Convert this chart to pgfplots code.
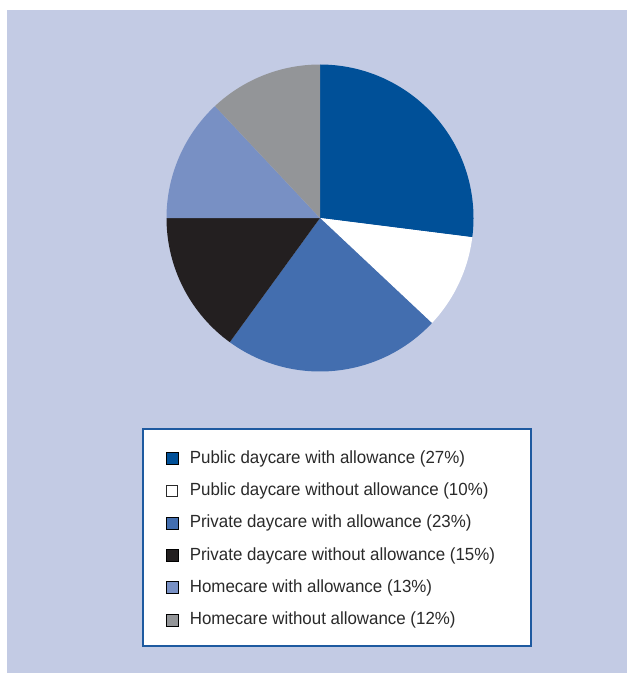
\documentclass[border=0pt]{standalone}
\usepackage{pgfplots}
\usepackage{pgfplotstable}
\pgfplotsset{compat=1.18}
\usepackage{fontspec}
\setmainfont{Liberation Sans}[FakeStretch=0.96]
\definecolor{bgblue}{HTML}{C3CBE4}
\definecolor{border}{HTML}{1E5AA0}
\definecolor{pie0}{HTML}{005098}
\definecolor{pie1}{HTML}{FFFFFF}
\definecolor{pie2}{HTML}{436EAF}
\definecolor{pie3}{HTML}{231F20}
\definecolor{pie4}{HTML}{7890C4}
\definecolor{pie5}{HTML}{939598}
\definecolor{txt}{HTML}{2A2A2A}

\pgfplotstableread{
value
27
10
23
15
13
12
}\piedata

\begin{document}
\gdef\cum{0}%
\pgfplotsforeachungrouped \i in {0,...,5}{%
  \pgfplotstablegetelem{\i}{value}\of\piedata
  \pgfmathsetmacro\s{90-3.6*\cum}%
  \pgfmathsetmacro\newcum{\cum+\pgfplotsretval}%
  \pgfmathsetmacro\e{90-3.6*\newcum}%
  \expandafter\xdef\csname pieS\i\endcsname{\s}%
  \expandafter\xdef\csname pieE\i\endcsname{\e}%
  \xdef\cum{\newcum}%
}%
\begin{tikzpicture}
\fill[white] (0pt,0pt) rectangle (470.25pt,-504.75pt);
\fill[bgblue] (5.25pt,-7.5pt) rectangle (470.25pt,-504.75pt);
\fill[white] (107.6pt,-322pt) rectangle (398.25pt,-484.65pt);
\draw[border, line width=1.5pt] (107.6pt,-322pt) rectangle (398.25pt,-484.65pt);
\begin{axis}[
  at={(240pt,-163.5pt)}, anchor=origin,
  scale only axis, width=230.25pt, height=230.25pt,
  xmin=-1, xmax=1, ymin=-1, ymax=1,
  hide axis, clip=false,
  legend style={at={(-0.0026,-0.2555)}, anchor=north west, draw=none, fill=none,
    inner sep=0pt, outer sep=0pt,
    nodes={inner sep=0pt, outer sep=0pt, text height=10pt, text depth=3pt, text=txt,
      font=\fontsize{13.2}{15}\selectfont},
    row sep=11.2pt, column sep=8.7pt},
  legend cell align=left,
  legend image code/.code={\fill[#1] (0pt,-4.5pt) rectangle (9pt,4.5pt);},
]
\pgfplotsinvokeforeach{0,...,5}{%
  \fill[pie#1] (axis cs:0,0) -- ++(\csname pieS#1\endcsname:115.125pt)
    arc[start angle=\csname pieS#1\endcsname, end angle=\csname pieE#1\endcsname, radius=115.125pt] -- cycle;
}
\addlegendimage{fill=pie0}
\addlegendentry{Public daycare with allowance (27\%)}
\addlegendimage{fill=white, legend image code/.code={\filldraw[fill=white, draw=txt, line width=0.6pt] (0.3pt,-4.2pt) rectangle (8.7pt,4.2pt);}}
\addlegendentry{Public daycare without allowance (10\%)}
\addlegendimage{fill=pie2}
\addlegendentry{Private daycare with allowance (23\%)}
\addlegendimage{fill=pie3}
\addlegendentry{Private daycare without allowance (15\%)}
\addlegendimage{fill=pie4}
\addlegendentry{Homecare with allowance (13\%)}
\addlegendimage{fill=pie5}
\addlegendentry{Homecare without allowance (12\%)}
\end{axis}
\end{tikzpicture}
\end{document}
